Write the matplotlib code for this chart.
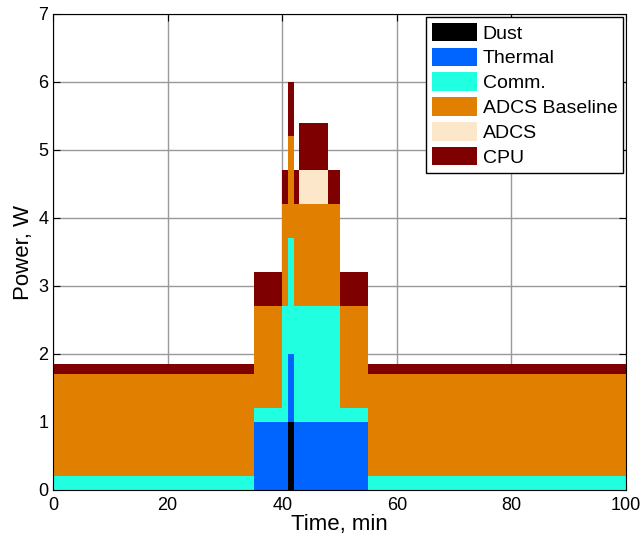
import numpy as np
import matplotlib
matplotlib.use("Agg")
import matplotlib.pyplot as plt
from matplotlib.patches import Patch

plt.rcParams['font.family'] = ['Liberation Sans', 'DejaVu Sans']

# Segment edges (time, min)
edges = [0, 35, 40, 41, 42, 43, 48, 50, 55, 100]
# Power per segment (W)
dust          = [0.0, 0.0, 0.0, 1.0, 0.0, 0.0, 0.0, 0.0, 0.0]
thermal       = [0.0, 1.0, 1.0, 1.0, 1.0, 1.0, 1.0, 1.0, 0.0]
comm          = [0.2, 0.2, 1.7, 1.7, 1.7, 1.7, 1.7, 0.2, 0.2]
adcs_baseline = [1.5, 1.5, 1.5, 1.5, 1.5, 1.5, 1.5, 1.5, 1.5]
adcs          = [0.0, 0.0, 0.0, 0.0, 0.0, 0.5, 0.0, 0.0, 0.0]
cpu           = [0.15, 0.5, 0.5, 0.8, 0.5, 0.7, 0.5, 0.5, 0.15]

names = ['Dust', 'Thermal', 'Comm.', 'ADCS Baseline', 'ADCS', 'CPU']
series = [dust, thermal, comm, adcs_baseline, adcs, cpu]
colors = ['#000000', '#0064FF', '#20FFE0', '#E07F00', '#FCE7CB', '#7F0000']

fig = plt.figure(figsize=(6.44, 5.43), dpi=100)
ax = fig.add_axes([53/644, 53/543, (626-53)/644, (490-14)/543])

x = np.array(edges, dtype=float)
base = np.zeros(len(edges) - 1)
for vals, col in zip(series, colors):
    v = np.array(vals)
    lo = np.append(base, base[-1])
    hi = np.append(base + v, (base + v)[-1])
    ax.fill_between(x, lo, hi, step='post', color=col, linewidth=0, zorder=2)
    base = base + v

ax.set_xlim(0, 100)
ax.set_ylim(0, 7)
ax.set_xticks(np.arange(0, 101, 20))
ax.set_yticks(np.arange(0, 8, 1))
ax.grid(True, color='#999999', linewidth=1.0, zorder=0)
ax.set_axisbelow(True)
ax.tick_params(direction='in', top=True, right=True, labelsize=13, length=5, width=0.8)
ax.tick_params(axis='x', pad=5)
for s in ax.spines.values():
    s.set_linewidth(0.8)
    s.set_zorder(5)
ax.set_xlabel('Time, min', fontsize=16, labelpad=0)
ax.set_ylabel('Power, W', fontsize=16, labelpad=3)

handles = [Patch(facecolor=c, edgecolor='none', label=n) for n, c in zip(names, colors)]
leg = ax.legend(handles=handles, loc='upper right', fontsize=14, fancybox=False,
                framealpha=1, edgecolor='black', borderaxespad=0.15,
                handlelength=2.3, handleheight=1.1, labelspacing=0.25,
                handletextpad=0.3, borderpad=0.3)
leg.get_frame().set_linewidth(1.0)
leg.set_zorder(10)

fig.savefig('out.png', dpi=100)
